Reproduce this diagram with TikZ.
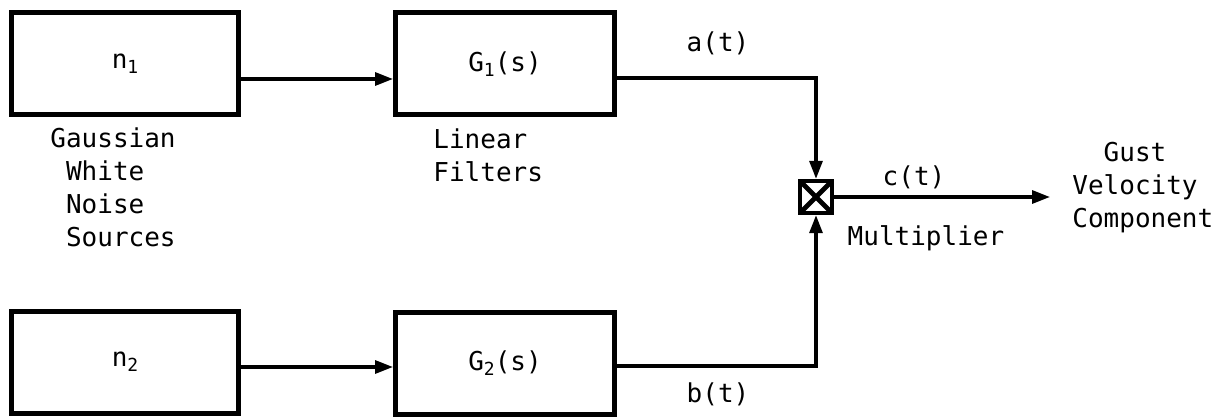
\documentclass[tikz,border=0pt]{standalone}
\usepackage{fontspec}
\setmainfont{DejaVu Sans Mono}
\usetikzlibrary{arrows.meta}
\newcommand{\lowidx}[1]{\raisebox{-0.35ex}{\fontsize{9}{9}\selectfont #1}}

\begin{document}
\begin{tikzpicture}[x=0.5pt, y=-0.5pt,
  font=\fontsize{13}{16.5}\selectfont,
  box/.style={draw, line width=2.5pt, minimum height=51pt, inner sep=0pt},
  mult/.style={draw, line width=2.2pt, minimum size=16pt, inner sep=0pt,
               path picture={\draw[line width=2.4pt]
                 (path picture bounding box.north west) -- (path picture bounding box.south east)
                 (path picture bounding box.south west) -- (path picture bounding box.north east);}},
  arrow/.style={-{Triangle[length=9pt, width=6.5pt]}, line width=1.6pt},
  wire/.style={line width=1.6pt},
  lbl/.style={inner sep=0pt, align=left},
]
  \useasboundingbox (0,0) rectangle (1228,417);

  % sources and filters
  \node[box, minimum width=113.5pt] (n1) at (125,64) {n\lowidx{1}};
  \node[box, minimum width=113.5pt] (n2) at (125,362) {n\lowidx{2}};
  \node[box, minimum width=109.5pt] (G1) at (505,64) {G\lowidx{1}(s)};
  \node[box, minimum width=109.5pt] (G2) at (505,363) {G\lowidx{2}(s)};
  \node[mult] (mul) at (816,197) {};
  \coordinate (out) at (1050,197);

  % texts
  \node[lbl, anchor=west] (srclbl) at (50,187)
    {Gaussian\\\phantom{G}White\\\phantom{G}Noise\\\phantom{G}Sources};
  \node[lbl, anchor=west] (filtlbl) at (433,155) {Linear\\Filters};
  \node[lbl, anchor=west] (gustlbl) at (1072,188)
    {\phantom{Gu}Gust\\Velocity\\Component};
  \node[lbl] (alb) at (718,43) {a(t)};
  \node[lbl] (blb) at (718,394) {b(t)};
  \node[lbl] (clb) at (914,177) {c(t)};
  \node[lbl] (mlb) at (926,238) {Multiplier};

  % connectors
  \draw[arrow] ([yshift=-7.5pt]n1.east) -- ([yshift=-7.5pt]G1.west);
  \draw[arrow] ([yshift=-2.5pt]n2.east) -- ([yshift=-2.5pt]n2.east -| G2.west);
  \draw[arrow] ([yshift=-7pt]G1.east) -| (mul.north);
  \draw[arrow] ([yshift=-1.5pt]G2.east) -| (mul.south);
  \draw[arrow] (mul.east) -- (out);
\end{tikzpicture}
\end{document}
